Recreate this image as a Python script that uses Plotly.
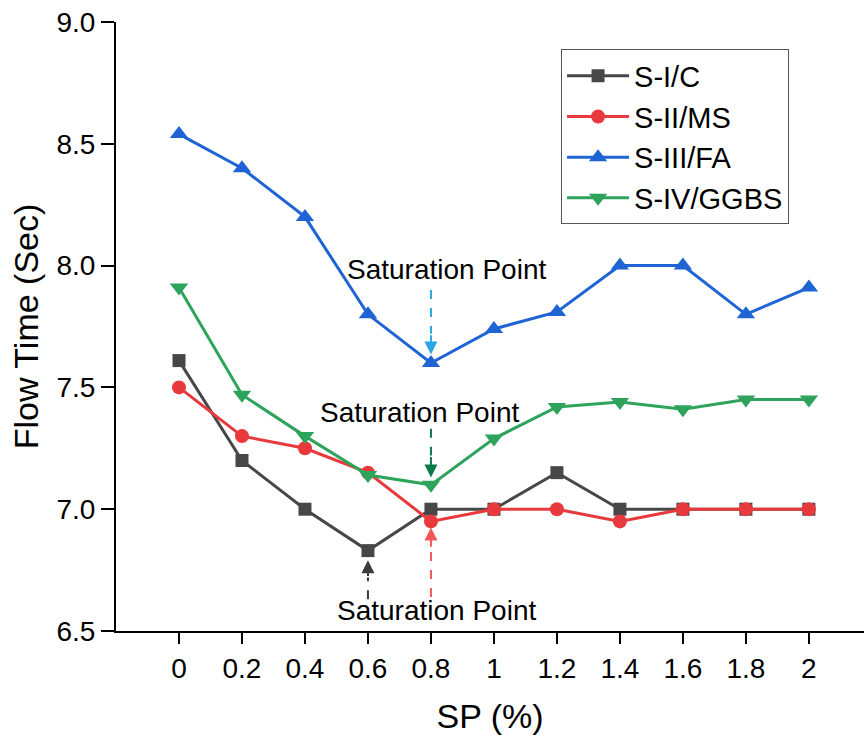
import plotly.graph_objects as go

sp = [0, 0.2, 0.4, 0.6, 0.8, 1.0, 1.2, 1.4, 1.6, 1.8, 2.0]
tick_labels = ["0", "0.2", "0.4", "0.6", "0.8", "1", "1.2", "1.4", "1.6", "1.8", "2"]
s1_c = [7.61, 7.20, 7.00, 6.83, 7.00, 7.00, 7.15, 7.00, 7.00, 7.00, 7.00]
s2_ms = [7.50, 7.30, 7.25, 7.15, 6.95, 7.00, 7.00, 6.95, 7.00, 7.00, 7.00]
s3_fa = [8.54, 8.40, 8.20, 7.80, 7.60, 7.74, 7.81, 8.00, 8.00, 7.80, 7.91]
s4_ggbs = [7.91, 7.47, 7.30, 7.14, 7.10, 7.29, 7.42, 7.44, 7.41, 7.45, 7.45]

series = [
    ("S-I/C", s1_c, "#474747", "square", 13),
    ("S-II/MS", s2_ms, "#e83a3d", "circle", 14),
    ("S-III/FA", s3_fa, "#1f64d4", "triangle-up", 16),
    ("S-IV/GGBS", s4_ggbs, "#2ea35b", "triangle-down", 16),
]

FONT = "Liberation Sans, Arial, sans-serif"

fig = go.Figure()
for name, ys, col, sym, msize in series:
    fig.add_trace(go.Scatter(
        x=sp, y=ys, name=name, mode="lines+markers",
        line=dict(color=col, width=3),
        marker=dict(symbol=sym, size=msize, color=col),
    ))

# Saturation point arrows: (x, tail_y, head_start_y, tip_y, color)
arrows = [
    (0.8, 7.90, 7.72, 7.635, "#2aa7e3"),
    (0.8, 7.33, 7.22, 7.13, "#0b7a4a"),
    (0.6, 6.63, 6.72, 6.79, "#3c3c3c"),
    (0.8, 6.64, 6.84, 6.925, "#f0585a"),
]
for x, tail, hs, tip, col in arrows:
    fig.add_trace(go.Scatter(x=[x, x], y=[tail, hs], mode="lines",
                             line=dict(color=col, width=2, dash="dash"),
                             showlegend=False, hoverinfo="skip"))
    fig.add_annotation(x=x, y=tip, ax=x, ay=hs, axref="x", ayref="y",
                       xref="x", yref="y", text="", showarrow=True,
                       arrowhead=2, arrowsize=1.3, arrowwidth=2,
                       arrowcolor=col, standoff=0, startstandoff=0)

labels = [(0.848, 7.982), (0.765, 7.399), (0.819, 6.586)]
for lx, ly in labels:
    fig.add_annotation(x=lx, y=ly, xref="x", yref="y", text="Saturation Point",
                       showarrow=False, font=dict(family=FONT, size=28, color="black"))

fig.update_layout(
    width=864, height=742,
    paper_bgcolor="white", plot_bgcolor="white",
    margin=dict(l=116, r=0, t=22, b=111),
    font=dict(family=FONT, color="black"),
    showlegend=True,
    legend=dict(x=0.595, y=0.955, xanchor="left", yanchor="top",
                bordercolor="#555", borderwidth=1, bgcolor="white",
                font=dict(family=FONT, size=29), tracegroupgap=0,
                itemwidth=62),
    xaxis=dict(range=[-0.2, 2.175], tickvals=sp, ticktext=tick_labels,
               showline=True, linecolor="black", linewidth=2,
               ticks="outside", ticklen=11, tickwidth=2, tickcolor="black",
               showgrid=False, zeroline=False,
               tickfont=dict(size=28),
               title=dict(text="SP (%)", font=dict(size=34), standoff=22)),
    yaxis=dict(range=[6.5, 9.0], tickvals=[6.5, 7.0, 7.5, 8.0, 8.5, 9.0],
               ticktext=["6.5", "7.0", "7.5", "8.0", "8.5", "9.0"],
               showline=True, linecolor="black", linewidth=2,
               ticks="outside", ticklen=13, tickwidth=2, tickcolor="black",
               showgrid=False, zeroline=False,
               tickfont=dict(size=28),
               title=dict(text="Flow Time (Sec)", font=dict(size=34), standoff=8)),
)

fig.write_html("out.html")
